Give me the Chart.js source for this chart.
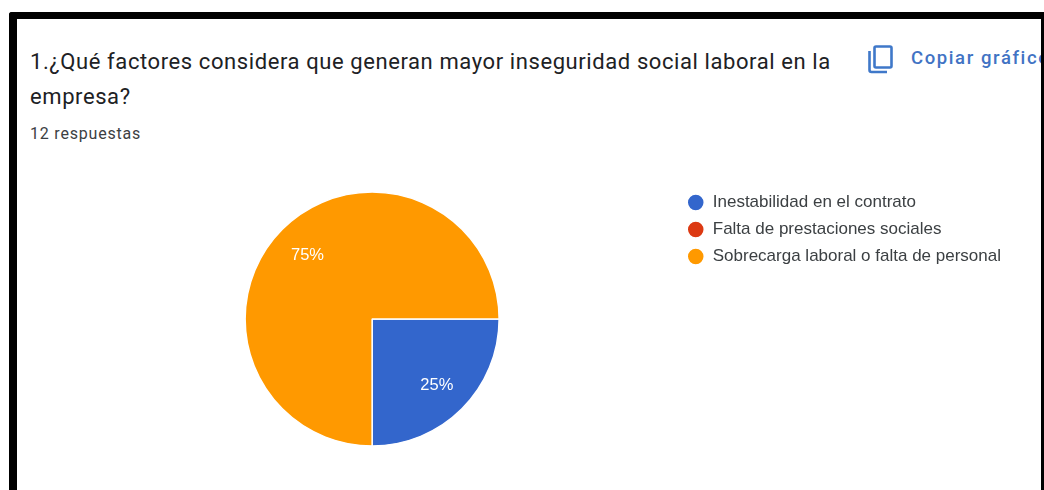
<!DOCTYPE html>
<html lang="es">
<head>
<meta charset="utf-8">
<title>Inseguridad social laboral</title>
<script src="https://cdn.jsdelivr.net/npm/chart.js@4"></script>
<style>
    html, body { margin: 0; padding: 0; background: #fff; }
    body { width: 1044px; height: 490px; position: relative; overflow: hidden; }
    #frame { position: absolute; left: 9px; top: 12px; width: 1035px; height: 478px; border: solid #000; border-width: 7px 3px 0 8px; box-sizing: border-box; border-top-left-radius: 3px; }
    .text { position: absolute; font-family: Roboto, sans-serif; color: #202124; white-space: nowrap; }
    #question { left: 30px; top: 44px; font-size: 22px; line-height: 35px; letter-spacing: 0.59px; }
    #answers { left: 30px; top: 124px; font-size: 16px; line-height: 20px; letter-spacing: 0.8px; color: #3c4043; }
    #copyLabel { left: 911px; top: 46px; width: 130px; overflow: hidden; font-size: 18.5px; line-height: 24px; font-weight: 500; color: #4173c4; letter-spacing: 1.6px; }
    #copyIcon { position: absolute; left: 866px; top: 43px; }
    #chartBox { position: absolute; left: 18px; top: 170px; width: 993px; height: 320px; }
</style>
</head>
<body>
<div id="frame"></div>
<div class="text" id="question">1.¿Qué factores considera que generan mayor inseguridad social laboral en la<br>empresa?</div>
<div class="text" id="answers">12 respuestas</div>
<svg id="copyIcon" width="30" height="32" viewBox="0 0 30 32" fill="none" stroke="#3f78c9" stroke-width="2.6">
    <rect x="8.5" y="3.5" width="17" height="21" rx="1.5"></rect>
    <path d="M3.5 8 V27 Q3.5 29 5.5 29 H21"></path>
</svg>
<div class="text" id="copyLabel">Copiar gráfico</div>
<div id="chartBox"><canvas id="pieChart"></canvas></div>

<script>
const categories = ['Inestabilidad en el contrato', 'Falta de prestaciones sociales', 'Sobrecarga laboral o falta de personal'];
const responses = [3, 0, 9];
const sliceColors = ['#3366cc', '#dc3912', '#ff9900'];

// Porcentaje escrito dentro de cada porción
const sliceLabels = {
    id: 'sliceLabels',
    afterDatasetsDraw(chart) {
        const total = responses.reduce((a, b) => a + b, 0);
        const ctx = chart.ctx;
        ctx.save();
        ctx.fillStyle = '#fff';
        ctx.font = '16.5px "Liberation Sans", Arial, sans-serif';
        ctx.textAlign = 'center';
        ctx.textBaseline = 'middle';
        chart.getDatasetMeta(0).data.forEach((arc, i) => {
            if (!responses[i]) return;
            const p = arc.getProps(['x', 'y', 'startAngle', 'endAngle', 'outerRadius']);
            const mid = (p.startAngle + p.endAngle) / 2;
            const dist = p.outerRadius * 0.72;
            ctx.fillText(Math.round(responses[i] / total * 100) + '%', p.x + Math.cos(mid) * dist, p.y + Math.sin(mid) * dist + 1.5);
        });
        ctx.restore();
    }
};

new Chart(document.getElementById('pieChart'), {
    type: 'pie',
    data: {
        labels: categories,
        datasets: [{
            data: responses,
            backgroundColor: sliceColors,
            borderColor: '#fff',
            borderWidth: 1.5,
            radius: 127
        }]
    },
    options: {
        responsive: true,
        maintainAspectRatio: false,
        animation: false,
        rotation: 90,
        layout: { padding: { left: 49, top: 14, bottom: 36, right: 0 } },
        plugins: {
            tooltip: { enabled: false },
            legend: {
                position: 'right',
                align: 'start',
                labels: {
                    usePointStyle: true,
                    pointStyle: 'circle',
                    pointStyleWidth: 17,
                    boxHeight: 12,
                    padding: 10,
                    color: '#3c4043',
                    font: { family: '"Liberation Sans", Arial, sans-serif', size: 17 }
                }
            }
        }
    },
    plugins: [sliceLabels]
});
</script>
</body>
</html>
